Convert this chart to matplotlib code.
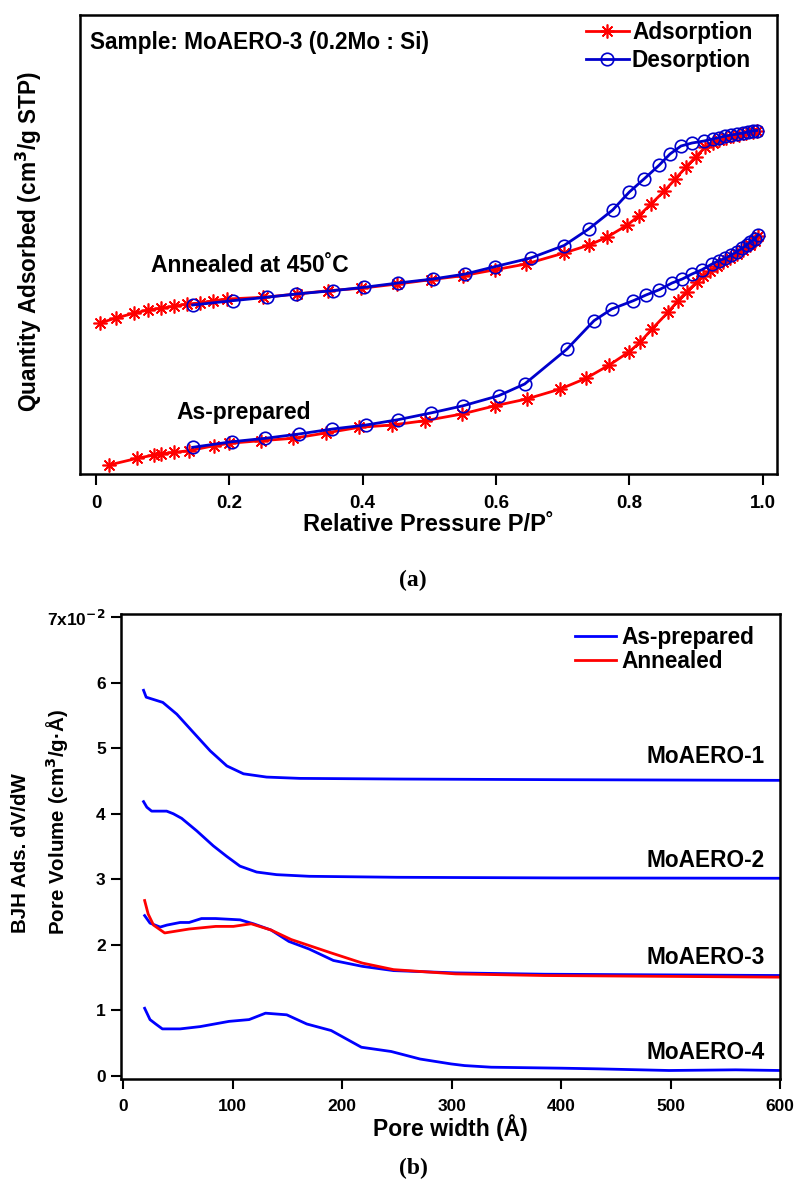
import matplotlib
matplotlib.use("Agg")
import matplotlib.pyplot as plt
from matplotlib.lines import Line2D

plt.rcParams['font.family'] = ['Liberation Sans', 'DejaVu Sans']
plt.rcParams['font.weight'] = 'bold'
plt.rcParams['mathtext.default'] = 'bf'

# ---------------- (a) N2 isotherms, MoAERO-3 ----------------
# relative pressure P/P0 and quantity adsorbed (arbitrary offset units)
ann_ads_p = [0.006, 0.03, 0.0565, 0.078, 0.097, 0.117, 0.137, 0.156, 0.176, 0.197,
             0.251, 0.301, 0.348, 0.397, 0.452, 0.502, 0.550, 0.599, 0.645, 0.702,
             0.740, 0.767, 0.797, 0.814, 0.8325, 0.8526, 0.869, 0.885, 0.8995, 0.914,
             0.925, 0.935, 0.945, 0.955, 0.965, 0.975, 0.985, 0.991]
ann_ads_q = [151, 156, 160.7, 164, 165.7, 167.7, 170, 171, 173.3, 175,
             176.7, 180, 183.3, 185.7, 190, 194.3, 198.3, 204.3, 210, 221,
             229, 237, 249, 258, 270, 283, 295, 307, 317, 327,
             331, 334, 336, 338, 339.5, 341, 342.5, 343.5]

ann_des_p = [0.991, 0.985, 0.978, 0.970, 0.962, 0.953, 0.944, 0.935, 0.925, 0.912,
             0.894, 0.8775, 0.861, 0.845, 0.822, 0.800, 0.775, 0.739, 0.702, 0.652,
             0.599, 0.554, 0.5055, 0.453, 0.402, 0.355, 0.300, 0.256, 0.205, 0.145]
ann_des_q = [343.5, 343, 342, 341, 340, 339, 338, 336.5, 335, 333,
             331, 328, 320, 309, 295, 282, 264, 245, 228.5, 216,
             207.5, 200, 195, 191, 186.7, 183.3, 180, 176.7, 173.3, 169]

asp_ads_p = [0.0196, 0.0618, 0.0871, 0.098, 0.117, 0.140, 0.177, 0.200, 0.247, 0.296,
             0.3446, 0.395, 0.444, 0.4934, 0.549, 0.599, 0.646, 0.6965, 0.735, 0.770,
             0.800, 0.816, 0.834, 0.858, 0.873, 0.886, 0.901, 0.911, 0.921, 0.931,
             0.941, 0.951, 0.961, 0.971, 0.981, 0.988, 0.993]
asp_ads_q = [9, 15.7, 19, 20, 21.7, 23.3, 28.3, 30.7, 33.3, 35.7,
             41, 46.7, 49, 53.3, 60, 68.3, 75, 85, 95.7, 109,
             122.3, 131.7, 145, 161.7, 173.3, 182.3, 191.7, 198.3, 203.3, 207.7,
             211.7, 215.7, 220, 224.3, 229, 233.3, 237.7]

asp_des_p = [0.993, 0.988, 0.981, 0.976, 0.969, 0.961, 0.953, 0.944, 0.934, 0.924,
             0.909, 0.894, 0.8795, 0.864, 0.845, 0.825, 0.806, 0.7736, 0.747, 0.7066,
             0.643, 0.604, 0.551, 0.502, 0.453, 0.405, 0.3547, 0.3044, 0.254, 0.204,
             0.145]
asp_des_q = [239, 235, 231.7, 229, 225.7, 222.3, 219, 215.7, 213.3, 210,
             204.3, 200, 195, 191, 184.3, 179, 173.3, 165, 153.3, 125,
             90, 78.3, 68.3, 61, 54.3, 49, 45, 40, 35.7, 32.3,
             26.7]

pa_ticks = [0, 0.2, 0.4, 0.6, 0.8, 1.0]
pa_ticklabels = ['0', '0.2', '0.4', '0.6', '0.8', '1.0']

# ---------------- (b) BJH pore size distributions ----------------
# pore width (Angstrom) and dV/dW in units of 1e-2 cm3/(g.A), offset per sample
mo1_w = [18.6, 21, 36.2, 49, 64.2, 79.5, 94.7, 109.9, 131, 161.6, 253, 400, 600]
mo1_v = [5.885, 5.78, 5.70, 5.52, 5.24, 4.96, 4.73, 4.61, 4.56, 4.54, 4.53, 4.52, 4.51]

mo2_w = [18.6, 21.6, 26, 33.6, 39.7, 45.8, 53.4, 67.1, 82.3, 94.5, 106.7, 121.9, 140.2,
         170, 250, 400, 600]
mo2_v = [4.185, 4.10, 4.04, 4.04, 4.04, 4.00, 3.93, 3.74, 3.51, 3.35, 3.20, 3.11, 3.07,
         3.045, 3.03, 3.02, 3.015]

mo3_w = [19.6, 24.5, 33.8, 39.9, 52, 60.2, 71.5, 84.5, 106.8, 119, 135, 151.4, 169.8,
         192, 218.5, 247, 303.7, 384.8, 600]
mo3_v = [2.445, 2.33, 2.27, 2.30, 2.34, 2.34, 2.40, 2.40, 2.38, 2.32, 2.225, 2.05, 1.935,
         1.76, 1.67, 1.605, 1.57, 1.55, 1.53]

mo3a_w = [19.6, 22.8, 27.7, 37.9, 60.2, 84.5, 100.7, 116.9, 135, 153.4, 190, 218.5,
          247, 303.7, 384.8, 600]
mo3a_v = [2.675, 2.47, 2.30, 2.18, 2.24, 2.28, 2.28, 2.32, 2.225, 2.08, 1.875, 1.72,
          1.62, 1.555, 1.53, 1.505]

mo4_w = [19.6, 24.5, 29.7, 35.8, 52, 70.3, 96.7, 115, 130, 149.4, 167.7, 190, 217.6,
         244.8, 271.2, 299.6, 311.8, 336.2, 401.1, 433.6, 498.6, 559.5, 600]
mo4_v = [1.03, 0.857, 0.79, 0.715, 0.715, 0.75, 0.83, 0.857, 0.955, 0.93, 0.79, 0.69,
         0.435, 0.37, 0.255, 0.18, 0.155, 0.13, 0.115, 0.105, 0.08, 0.09, 0.08]

sample_names = ['MoAERO-1', 'MoAERO-2', 'MoAERO-3', 'MoAERO-4']
sample_label_y = [4.88, 3.29, 1.80, 0.36]

pb_xticks = [0, 100, 200, 300, 400, 500, 600]
pb_yticks = [0, 1, 2, 3, 4, 5, 6, 7]
pb_yticklabels = ['0', '1', '2', '3', '4', '5', '6', '7x10$^{-2}$']

RED = '#ff0000'
BLUE_A = '#0000cc'
BLUE_B = '#0000ff'

W, H = 796, 1187
fig = plt.figure(figsize=(W / 100, H / 100), dpi=100)


def fx(px):
    return px / W


def fy(py):
    return 1 - py / H


# ---- panel (a)
ax1 = fig.add_axes([fx(80), fy(474), (777 - 80) / W, (474 - 15) / H])
star = (8, 2, 0)
mk_a = dict(marker=star, ms=10, mew=1.2, color=RED, lw=2.0)
mk_d = dict(marker='o', ms=9, mew=1.2, mfc='none', color=BLUE_A, lw=2.0)
ax1.plot(ann_ads_p, ann_ads_q, **mk_a)
ax1.plot(asp_ads_p, asp_ads_q, **mk_a)
ax1.plot(ann_des_p, ann_des_q, **mk_d)
ax1.plot(asp_des_p, asp_des_q, **mk_d)

ax1.set_xlim(-0.024, 1.0215)
ax1.set_ylim(0, 459)
ax1.set_xticks(pa_ticks)
ax1.set_xticklabels(pa_ticklabels)
ax1.set_yticks([])
ax1.tick_params(axis='x', direction='out', length=8, width=1.5, labelsize=13.5, pad=7)
for s in ax1.spines.values():
    s.set_linewidth(1.8)
ax1.set_xlabel('Relative Pressure P/P˚', fontsize=17, fontweight='bold', labelpad=1)
fig.text(fx(29), fy(242), 'Quantity Adsorbed (cm$^3$/g STP)', rotation=90,
         fontsize=16.3, fontweight='bold', ha='center', va='center')

ax1.text(0.014, (474 - 42) / 459, 'Sample: MoAERO-3 (0.2Mo : Si)', transform=ax1.transAxes,
         fontsize=16.3, fontweight='bold', va='center', ha='left')
ax1.text(0.082, 209, 'Annealed at 450˚C', fontsize=16.5, fontweight='bold', va='center')
ax1.text(0.12, 62, 'As-prepared', fontsize=16.5, fontweight='bold', va='center')

h1 = [Line2D([], [], **mk_a), Line2D([], [], **mk_d)]
fig.legend(h1, ['Adsorption', 'Desorption'], loc='upper left', frameon=False,
           fontsize=16.3, handlelength=1.88, handletextpad=0.15, labelspacing=0.2,
           borderpad=0, borderaxespad=0, bbox_to_anchor=(fx(586), fy(21)))

fig.text(fx(413), fy(580), '(a)', family='Liberation Serif', fontsize=17,
         fontweight='bold', ha='center', va='center')

# ---- panel (b)
ax2 = fig.add_axes([fx(121), fy(1079), (780 - 121) / W, (1079 - 614) / H])
ax2.plot(mo1_w, mo1_v, color=BLUE_B, lw=2.0)
ax2.plot(mo2_w, mo2_v, color=BLUE_B, lw=2.0)
ax2.plot(mo3_w, mo3_v, color=BLUE_B, lw=2.0)
ax2.plot(mo3a_w, mo3a_v, color=RED, lw=2.0)
ax2.plot(mo4_w, mo4_v, color=BLUE_B, lw=2.0)

ax2.set_xlim(-2, 600)
ax2.set_ylim(-0.05, 7.05)
ax2.set_xticks(pb_xticks)
ax2.set_yticks(pb_yticks)
ax2.set_yticklabels(pb_yticklabels)
ax2.tick_params(direction='out', length=7.5, width=1.5, labelsize=12.5)
ax2.tick_params(axis='x', pad=7)
for s in ax2.spines.values():
    s.set_linewidth(1.8)
ax2.set_xlabel('Pore width (Å)', fontsize=16.5, fontweight='bold', labelpad=0)
fig.text(fx(21), fy(933), 'BJH Ads. dV/dW', rotation=90, fontsize=14.8,
         fontweight='bold', ha='center', va='bottom')
fig.text(fx(57), fy(935), 'Pore Volume (cm$^3$/g·Å)', rotation=90, fontsize=14.8,
         fontweight='bold', ha='center', va='bottom')

for name, yl in zip(sample_names, sample_label_y):
    ax2.text(586, yl, name, fontsize=16.3, fontweight='bold', ha='right', va='center')

h2 = [Line2D([], [], color=BLUE_B, lw=2.0), Line2D([], [], color=RED, lw=2.0)]
fig.legend(h2, ['As-prepared', 'Annealed'], loc='upper left', frameon=False,
           fontsize=16.3, handlelength=1.83, handletextpad=0.2, labelspacing=0.05,
           borderpad=0, borderaxespad=0, bbox_to_anchor=(fx(575), fy(626)))

fig.text(fx(413), fy(1168), '(b)', family='Liberation Serif', fontsize=17,
         fontweight='bold', ha='center', va='center')

fig.savefig('out.png', dpi=100)
